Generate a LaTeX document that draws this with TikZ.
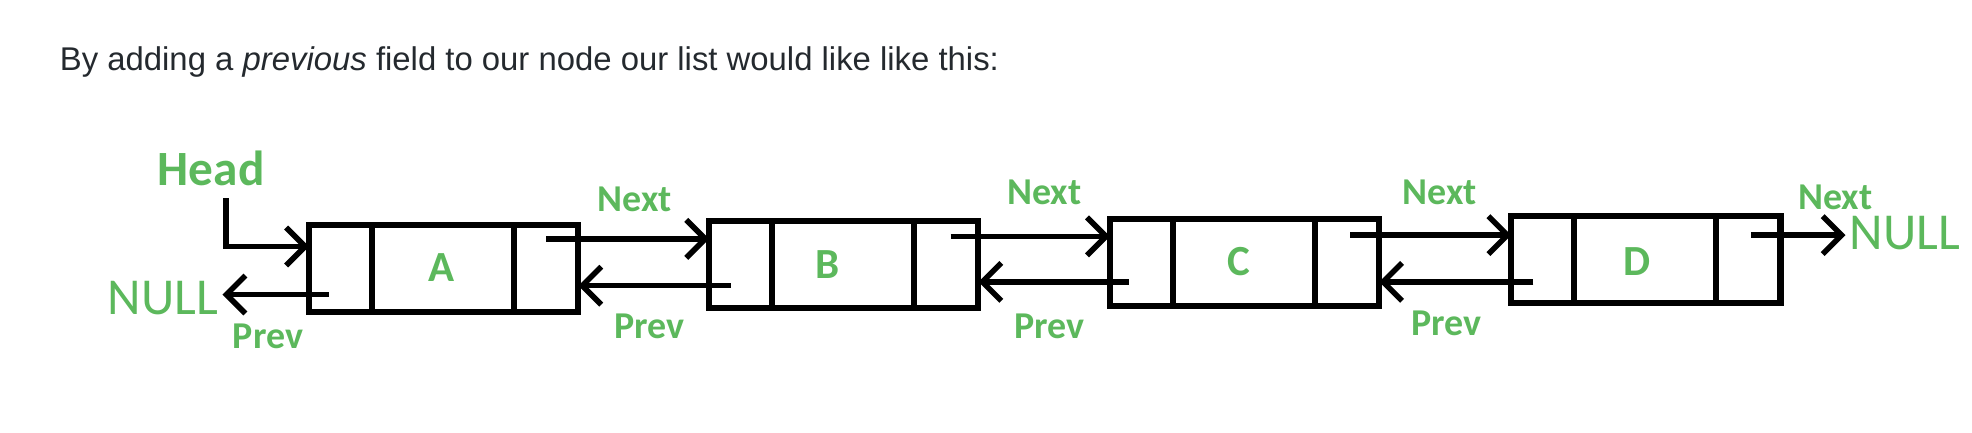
\documentclass[tikz,border=0pt]{standalone}
\usepackage{fontspec}
\setmainfont{Liberation Sans}
\newfontfamily\calib{Carlito}
\usetikzlibrary{arrows.meta,calc}
\definecolor{gfg}{RGB}{92,184,92}
\definecolor{ink}{RGB}{36,41,46}
\begin{document}
\begin{tikzpicture}[x=0.5pt,y=-0.5pt,
  box/.style={draw, line width=2.4pt, minimum width=106.5pt, minimum height=34.5pt, inner sep=0pt, outer sep=0pt},
  divider/.style={line width=2.4pt},
  link/.style={line width=2.2pt, -{Straight Barb[length=7.5pt,width=15pt]}},
  lbl/.style={text=gfg, font=\calib\bfseries\fontsize{15}{15}\selectfont, inner sep=0pt},
  nulltxt/.style={text=gfg, font=\calib\fontsize{20.5}{20.5}\selectfont, inner sep=1.5pt},
  letter/.style={text=gfg, font=\calib\bfseries\fontsize{17}{17}\selectfont, inner sep=0pt}]
\useasboundingbox (0,0) rectangle (1560,342);
% heading
\node[anchor=base west, inner sep=0pt, text=ink, font=\fontsize{13}{16}\selectfont] (title) at (47,56)
  {By adding a \textit{previous} field to our node our list would like like this:};
% boxes
\node[box] (a) at (351,212.5) {};
\node[box] (b) at (667.5,209.5) {};
\node[box] (c) at (984.5,207.5) {};
\node[box] (d) at (1302,205.5) {};
\foreach \n in {a,b,c,d}{
  \draw[divider] ($(\n.north west)+(50,0)$) -- ($(\n.south west)+(50,0)$);
  \draw[divider] ($(\n.north west)+(162,0)$) -- ($(\n.south west)+(162,0)$);
}
% letters
\node[letter] (la) at (349,212) {A};
\node[letter] (lb) at (655,209) {B};
\node[letter] (lc) at (980,207) {C};
\node[letter] (ld) at (1295,207) {D};
% text labels
\node[lbl, font=\calib\bfseries\fontsize{19.5}{19.5}\selectfont] (head) at (167,133) {Head};
\node[nulltxt, anchor=east] (nl) at (176,236) {NULL};
\node[nulltxt, anchor=west] (nr) at (1460,184) {NULL};
\node[lbl] (n1) at (502,158) {Next};
\node[lbl] (p1) at (514,258) {Prev};
\node[lbl] (n2) at (826,152) {Next};
\node[lbl] (p2) at (830,258) {Prev};
\node[lbl] (n3) at (1139,152) {Next};
\node[lbl] (p3) at (1144,256) {Prev};
\node[lbl] (n4) at (1452,156) {Next};
\node[lbl] (p0) at (212,266) {Prev};
% connector start points
\coordinate (hs) at (179,157);
\coordinate (ap) at (260,233);
\coordinate (an) at (432,189);
\coordinate (bp) at (578,226);
\coordinate (bn) at (752,187);
\coordinate (cp) at (893,223);
\coordinate (cn) at (1068,186);
\coordinate (dp) at (1213,223);
\coordinate (dn) at (1385,186);
% connectors
\draw[link] (hs) |- ($(a.west)+(0,-17.5)$);
\draw[link] (ap) -- (ap -| nl.east);
\draw[link] (an) -- (an -| b.west);
\draw[link] (bp) -- (bp -| a.east);
\draw[link] (bn) -- (bn -| c.west);
\draw[link] (cp) -- (cp -| b.east);
\draw[link] (cn) -- (cn -| d.west);
\draw[link] (dp) -- (dp -| c.east);
\draw[link] (dn) -- (dn -| nr.west);
\end{tikzpicture}
\end{document}
